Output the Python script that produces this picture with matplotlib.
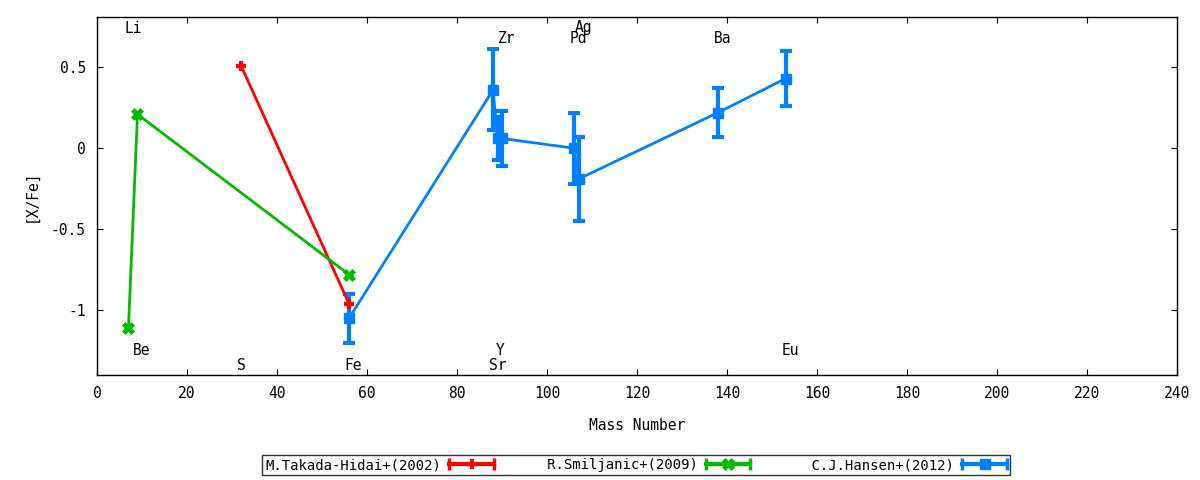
import matplotlib
matplotlib.use('Agg')
from matplotlib import pyplot as plt
from matplotlib.lines import Line2D
from matplotlib.legend_handler import HandlerBase
from matplotlib.ticker import FuncFormatter

# M.Takada-Hidai+(2002)
takada_mass = [32, 56]
takada_xfe = [0.51, -0.96]
takada_err = [0.0, 0.0]

# R.Smiljanic+(2009)
smiljanic_mass = [7, 9, 56]
smiljanic_xfe = [-1.11, 0.21, -0.78]
smiljanic_err = [0.0, 0.0, 0.0]

# C.J.Hansen+(2012)
hansen_mass = [56, 88, 89, 90, 106, 107, 138, 153]
hansen_xfe = [-1.05, 0.36, 0.06, 0.06, 0.0, -0.19, 0.22, 0.43]
hansen_err = [0.15, 0.25, 0.13, 0.17, 0.22, 0.26, 0.15, 0.17]

series_labels = ['M.Takada-Hidai+(2002)', 'R.Smiljanic+(2009)', 'C.J.Hansen+(2012)']

# element labels: name, mass position, height
elem_names = ['Li', 'Be', 'S', 'Fe', 'Sr', 'Y', 'Zr', 'Pd', 'Ag', 'Ba', 'Eu']
elem_x = [8, 10, 32, 57, 89, 89.5, 91, 107, 108, 139, 154]
elem_y = [0.74, -1.25, -1.34, -1.34, -1.34, -1.25, 0.68, 0.68, 0.745, 0.68, -1.25]


class HorizErrHandler(HandlerBase):
    # gnuplot style key sample: horizontal bar with end caps and the point in the middle
    def create_artists(self, legend, orig_handle, xdescent, ydescent, width, height, fontsize, trans):
        line = orig_handle[0]
        c = line.get_color()
        y = height / 2 - ydescent
        x0 = -xdescent
        x1 = x0 + width
        bar = Line2D([x0, x1], [y, y], color=c, lw=3)
        caps = Line2D([x0, x1], [y, y], color=c, lw=0, marker='|', ms=8, mew=2.5)
        pt = Line2D([(x0 + x1) / 2], [y], color=c, lw=0, marker=line.get_marker(),
                    ms=line.get_markersize(), mew=line.get_markeredgewidth())
        for a in (bar, caps, pt):
            a.set_transform(trans)
        return [bar, caps, pt]


plt.rcParams['font.family'] = ['DejaVu Sans Mono']
plt.rcParams['font.size'] = 10

fig = plt.figure(figsize=(12, 4.8), dpi=100)
ax = fig.add_axes([0.0808, 0.21875, 0.9002, 0.74585])

h1 = ax.errorbar(takada_mass, takada_xfe, yerr=takada_err, color='#ff0000', lw=2,
                 marker='+', ms=7, mew=3, capsize=3, elinewidth=2.5, capthick=2.5)
h2 = ax.errorbar(smiljanic_mass, smiljanic_xfe, yerr=smiljanic_err, color='#00bb00', lw=2,
                 marker='X', ms=8, mew=0.5, capsize=3, elinewidth=2.5, capthick=2.5)
h3 = ax.errorbar(hansen_mass, hansen_xfe, yerr=hansen_err, color='#0080ff', lw=2,
                 marker='s', ms=7, capsize=4, elinewidth=3, capthick=3)

for name, x, y in zip(elem_names, elem_x, elem_y):
    ax.text(x, y, name, ha='center', va='center', fontsize=10.5)

ax.set_xlim(0, 240)
ax.set_ylim(-1.4, 0.81)
ax.set_xticks(range(0, 241, 20))
ax.set_yticks([-1, -0.5, 0, 0.5])
ax.yaxis.set_major_formatter(FuncFormatter(lambda v, p: '%g' % v))
ax.tick_params(direction='in', top=True, right=True, length=4, labelsize=10.5, pad=8)
ax.set_xlabel('Mass Number', fontsize=10.5, labelpad=12)
ax.set_ylabel('[X/Fe]', fontsize=10.5, labelpad=9)
for s in ax.spines.values():
    s.set_linewidth(1)

# right-justify key texts like gnuplot by padding to equal width
w = max(len(s) for s in series_labels)
key_labels = [s.rjust(w) for s in series_labels]
handler = HorizErrHandler()
leg = fig.legend([h1, h2, h3], key_labels, loc='center', bbox_to_anchor=(0.53, 0.031), ncol=3,
                 markerfirst=False, frameon=True, fancybox=False, edgecolor='black',
                 fontsize=10, columnspacing=2.0, handlelength=3.2, borderpad=0.2,
                 handletextpad=0.6, borderaxespad=0,
                 handler_map={h1: handler, h2: handler, h3: handler})
leg.get_frame().set_linewidth(1)

fig.savefig('out.png', dpi=100)
